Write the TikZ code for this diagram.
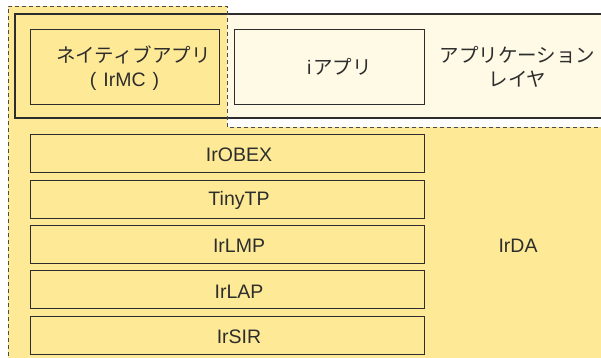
\documentclass[tikz,border=0pt]{standalone}
\usepackage{fontspec}
\setmainfont{Liberation Sans}
\newfontfamily\jp{Noto Sans CJK JP}
\definecolor{irYellow}{RGB}{254,234,150}
\definecolor{irCream}{RGB}{255,250,230}
\definecolor{irLine}{RGB}{45,45,45}
\begin{document}
\begin{tikzpicture}[x=1pt,y=-1pt,
  every node/.style={font=\fontsize{19.5}{25}\selectfont, text=irLine, inner sep=0pt},
  boxyel/.style={draw=irLine, line width=1pt, fill=irYellow, rectangle},
  boxcream/.style={draw=irLine, line width=1pt, fill=irCream, rectangle},
  dashline/.style={draw=irLine!85, line width=1pt, dash pattern=on 4pt off 3pt}]
\useasboundingbox (0,0) rectangle (601,357);
\begin{scope}
\clip (0,0) rectangle (601,357);
% application layer background
\fill[irCream] (15,14) rectangle (620,118);
% yellow IrDA region
\fill[irYellow] (8,6) -- (227,6) -- (227,127) -- (620,127) -- (620,370) -- (8,370) -- cycle;
% thick application layer frame
\draw[irLine, line width=2pt] (15,14) rectangle (620,118);
% dashed outline
\coordinate (d1) at (8,370);
\coordinate (d2) at (8,6);
\coordinate (d3) at (227,6);
\coordinate (d4) at (227,127);
\coordinate (d5) at (620,127);
\draw[dashline] (d1) -- (d2) -- (d3) -- (d4) -- (d5);
\end{scope}
% application boxes
\node[boxyel, minimum width=189, minimum height=75] (native) at (124.5,66.5) {};
\node (nativeA) at (133.5,55) {\jp ネイティブアプリ};
\node (nativeB) at (124.5,81) {(\hspace{7pt}IrMC\hspace{7pt})};
\node[boxcream, minimum width=190, minimum height=75] (iapp) at (329,66.5) {};
\node (iappT) at (339.5,67) {i\hspace{2pt}{\jp アプリ}};
\node[align=center] (appl) at (517.5,67) {\jp アプリケーション\\[-1pt]\jp レイヤ};
% IrDA stack
\node[boxyel, minimum width=394, minimum height=38] (obex) at (227,153.6) {};
\node (obexT) at (239,155) {IrOBEX};
\node[boxyel, minimum width=394, minimum height=38] (tinytp) at (227,199) {};
\node (tinytpT) at (239,200.5) {TinyTP};
\node[boxyel, minimum width=394, minimum height=38] (lmp) at (227,244.4) {};
\node (lmpT) at (239,246) {IrLMP};
\node[boxyel, minimum width=394, minimum height=38] (lap) at (227,289.8) {};
\node (lapT) at (239,291.5) {IrLAP};
\node[boxyel, minimum width=394, minimum height=38] (sir) at (227,335.2) {};
\node (sirT) at (239,337) {IrSIR};
\node (irda) at (518,246) {IrDA};
\end{tikzpicture}
\end{document}
